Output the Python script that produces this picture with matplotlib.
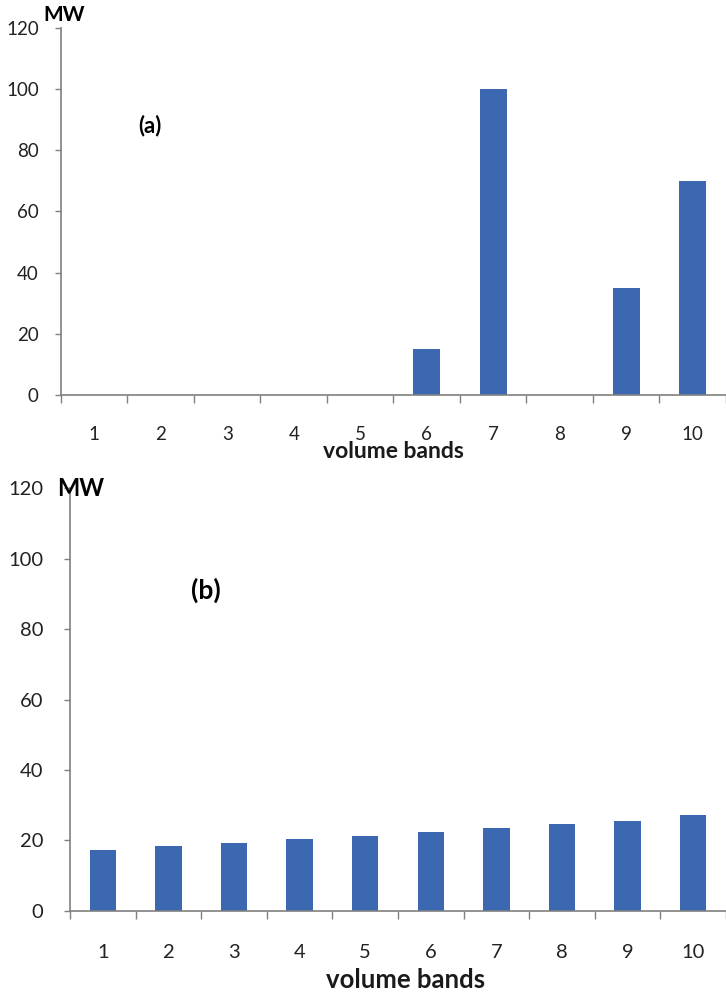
import matplotlib.pyplot as plt
import numpy as np

# data
bands = [1, 2, 3, 4, 5, 6, 7, 8, 9, 10]
mw_a = [0, 0, 0, 0, 0, 15, 100, 0, 35, 70]
mw_b = [17.2, 18.3, 19.3, 20.5, 21.4, 22.5, 23.4, 24.6, 25.6, 27.1]
yticks = [0, 20, 40, 60, 80, 100, 120]

plt.rcParams['font.family'] = ['Lato', 'DejaVu Sans']
bar_color = '#3b68b0'
axis_color = '#808080'

fig = plt.figure(figsize=(7.26, 9.92), dpi=100)


def style_axes(ax, tick_size, label_size, pad_y, pad_x, label_xy):
    x = np.array(bands)
    ax.set_xlim(0.5, 10.5)
    ax.set_ylim(0, 120)
    ax.set_yticks(yticks)
    ax.set_yticklabels([str(t) for t in yticks], fontsize=tick_size, color='#222222')
    # major ticks at category edges, labels on minor ticks at centers
    ax.set_xticks(np.arange(0.5, 10.6, 1.0))
    ax.set_xticklabels([])
    ax.set_xticks(x, minor=True)
    ax.set_xticklabels([str(b) for b in bands], minor=True, fontsize=tick_size, color='#222222')
    ax.tick_params(axis='x', which='major', direction='out', length=6, width=1, color=axis_color)
    ax.tick_params(axis='x', which='minor', length=0, pad=pad_x)
    ax.tick_params(axis='y', direction='out', length=4, width=1, color=axis_color, pad=pad_y)
    for s in ['top', 'right']:
        ax.spines[s].set_visible(False)
    for s in ['left', 'bottom']:
        ax.spines[s].set_color(axis_color)
        ax.spines[s].set_linewidth(1.2)
    ax.set_xlabel('volume bands', fontsize=label_size, fontweight='bold', va='center',
                  color='#1a1a1a')
    ax.xaxis.set_label_coords(*label_xy)


# panel (a)
ax1 = fig.add_axes([0.084, 0.6018, 0.916, 0.37])
ax1.bar(bands, mw_a, width=0.4, color=bar_color)
style_axes(ax1, 13.5, 16.5, 12, 22, (0.5, -0.155))
ax1.text(-0.027, 1.035, 'MW', transform=ax1.transAxes, fontsize=15, fontweight='bold',
         ha='left', va='center')
ax1.text(1.84, 88, '(a)', fontsize=16, fontweight='bold', ha='center', va='center')

# panel (b)
ax2 = fig.add_axes([0.0964, 0.0817, 0.9036, 0.4263])
ax2.bar(bands, mw_b, width=0.4, color=bar_color)
style_axes(ax2, 14.5, 18.5, 15, 24, (0.512, -0.163))
ax2.text(-0.02, 1.0, 'MW', transform=ax2.transAxes, fontsize=17, fontweight='bold',
         ha='left', va='center')
ax2.text(2.57, 91, '(b)', fontsize=19, fontweight='bold', ha='center', va='center')

fig.savefig('out.png', dpi=100)
